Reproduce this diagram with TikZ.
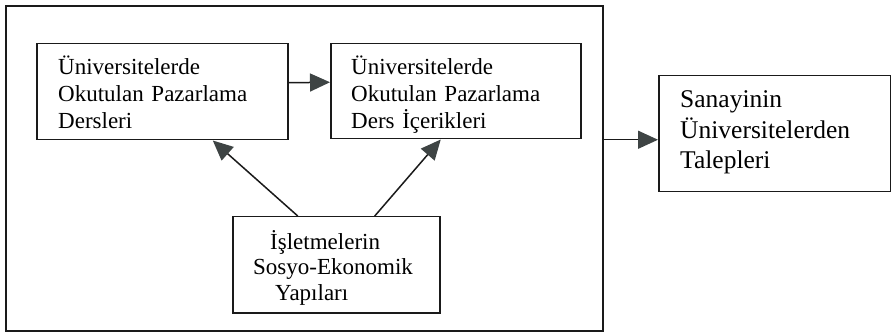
\documentclass[tikz,border=0pt]{standalone}
\usepackage{fontspec}
\setmainfont{Liberation Serif}
\usetikzlibrary{arrows.meta}
\definecolor{ink}{HTML}{1A1A1A}
\definecolor{headgray}{HTML}{3E4444}
\begin{document}
\begin{tikzpicture}[x=1pt,y=1pt,
  box/.style={draw=ink, line width=1.5pt, inner sep=0pt, anchor=north west},
  txt/.style={text=black, inner sep=0pt, anchor=base west, align=left, text width=#1},
  smallfont/.style={font=\fontsize{23}{26.7}\selectfont},
  bigfont/.style={font=\fontsize{25.5}{30.5}\selectfont},
  arr/.style={draw=ink, line width=1.5pt,
    -{Triangle[length=20pt, width=18pt, color=headgray]}}]
\useasboundingbox (0,0) rectangle (891,332);

% frame around the university side
\node[box, line width=2pt, minimum width=597, minimum height=325] (outer) at (5,327) {};

% boxes
\node[box, minimum width=251, minimum height=96] (A) at (36,289) {};
\node[box, minimum width=250, minimum height=95] (B) at (330,289) {};
\node[box, minimum width=207, minimum height=96] (C) at (232,116) {};
\node[box, minimum width=232, minimum height=116] (D) at (658,257) {};

% box texts
\node[txt=220, smallfont] (At) at (58,257.3)
  {Üniversitelerde\\Okutulan Pazarlama\\Dersleri};
\node[txt=220, smallfont] (Bt) at (351,257.3)
  {Üniversitelerde\\Okutulan Pazarlama\\Ders İçerikleri};
\node[txt=185, font=\fontsize{23}{25.5}\selectfont] (Ct) at (253,82.7)
  {\hspace*{17pt}İşletmelerin\\Sosyo-Ekonomik\\\hspace*{22pt}Yapıları};
\node[txt=210, bigfont] (Dt) at (680,224)
  {Sanayinin\\Üniversitelerden\\Talepleri};

% connectors
\draw[arr] ([yshift=9]A.east) -- ([yshift=9]B.west);
\draw[arr] ([xshift=-38.5]C.north) -- ([xshift=50.5]A.south);
\draw[arr] ([xshift=38.5]C.north) -- ([xshift=-15]B.south);
\coordinate (Din) at ([yshift=-6]D.west);
\draw[arr] (outer.east |- Din) -- (Din);
\end{tikzpicture}
\end{document}
